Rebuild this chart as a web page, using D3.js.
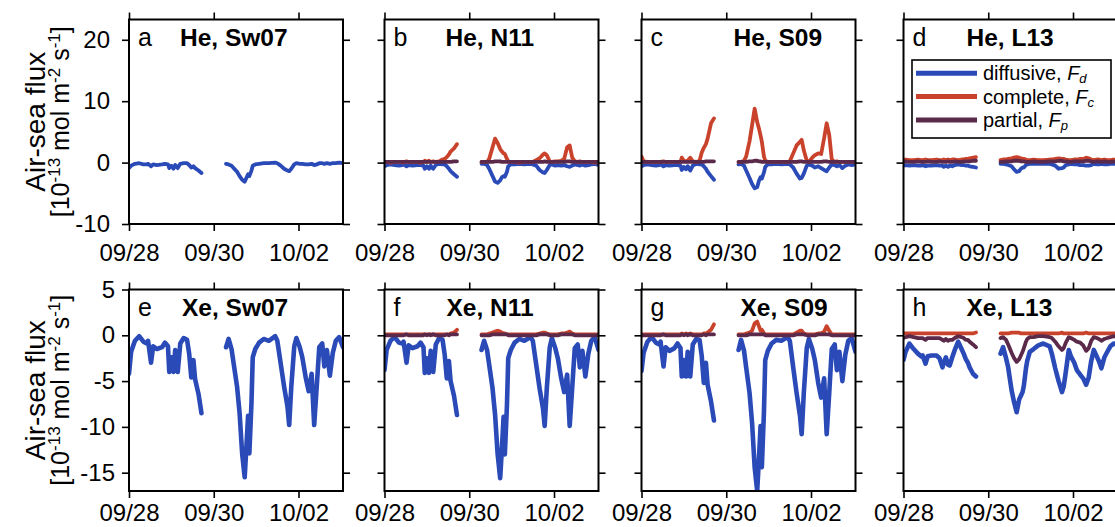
<!DOCTYPE html>
<html>
<head>
<meta charset="utf-8">
<script src="https://cdnjs.cloudflare.com/ajax/libs/d3/7.8.5/d3.min.js"></script>
<style>
    body { margin: 0; background: #fff; }
    svg { display: block; font-family: "Liberation Sans", Arial, Helvetica, sans-serif; }
</style>
</head>
<body>
<div id="chart"></div>
<script>
// sample times, days after 09/28 00:00 (first leg 27 samples, then a gap, second leg 42 samples)
const days = [
    0, 0.05, 0.14, 0.24, 0.34, 0.42, 0.45, 0.52, 0.57, 0.66, 0.78, 0.85, 0.92, 0.95, 1.00, 1.05, 1.09, 1.15, 1.21, 1.29, 1.37, 1.42, 1.47, 1.52, 1.56, 1.64, 1.71,
    2.29, 2.35, 2.42, 2.47, 2.55, 2.61, 2.67, 2.73, 2.77, 2.81, 2.84, 2.89, 2.92, 2.98, 3.07, 3.18, 3.30, 3.45, 3.50, 3.58, 3.66,
    3.74, 3.78, 3.83, 3.90, 3.95, 4.03, 4.09, 4.17, 4.24, 4.31, 4.37, 4.43, 4.49, 4.56, 4.61, 4.67, 4.74, 4.81, 4.88, 4.96, 5.05
];

const dateTicks = [0, 2, 4];
const dateLabels = ["09/28", "09/30", "10/02"];
const heTicks = [-10, 0, 10, 20];
const xeTicks = [-15, -10, -5, 0, 5];
const sites = ["Sw07", "N11", "S09", "L13"];
const gases = ["He", "Xe"];
const letters = ["a", "b", "c", "d", "e", "f", "g", "h"];
const fluxNames = ["diffusive", "complete", "partial"];
const fluxSubs = ["d", "c", "p"];

// He fluxes [1e-13 mol m-2 s-1]
const heDiffSw07 = [
    -0.9, -0.5, -0.2, -0.1, -0.3, -0.3, -0.2, -0.6, -0.3, -0.4, -0.3, -0.2, -0.3, -0.9, -0.5, -1.0, -0.4, -0.9, -0.2, -0.1, -0.1, -0.4, -0.8, -0.6, -0.9, -1.3, -1.7,
    -0.2, -0.3, -0.5, -0.9, -1.5, -2.2, -2.8, -3.1, -2.5, -1.9, -2.2, -1.3, -0.5, -0.3, -0.2, -0.1, -0.1, 0.0, -0.1, -0.5, -1.0,
    -1.3, -1.4, -1.0, -0.3, -0.1, -0.2, -0.2, -0.3, -0.3, -0.2, -0.4, -0.3, -0.1, -0.1, -0.2, -0.1, -0.2, -0.1, -0.1, 0.0, -0.1
];
const heDiffN11 = [
    -0.6, -0.4, -0.3, -0.4, -0.5, -0.4, -0.3, -0.6, -0.4, -0.5, -0.4, -0.4, -0.5, -1.0, -0.6, -1.0, -0.5, -1.0, -0.4, -0.2, -0.3, -0.3, -0.6, -1.0, -1.4, -1.9, -2.3,
    -0.2, -0.2, -0.4, -1.0, -2.2, -3.1, -3.3, -2.9, -2.4, -2.2, -2.3, -1.5, -0.6, -0.3, -0.3, -0.2, -0.3, -0.2, -0.3, -0.5, -1.2,
    -1.6, -1.7, -1.2, -0.4, -0.3, -0.5, -0.4, -0.5, -0.4, -0.6, -0.7, -0.5, -0.3, -0.4, -0.5, -0.3, -0.5, -0.4, -0.3, -0.2, -0.4
];
const heCompN11 = [
    0.1, 0.1, 0.0, 0.1, 0.1, 0.1, 0.0, 0.2, 0.1, 0.1, 0.1, 0.0, 0.1, 0.3, 0.1, 0.3, 0.1, 0.2, 0.1, 0.2, 0.5, 0.6, 0.9, 1.3, 1.8, 2.3, 3.0,
    0.1, 0.1, 0.1, 0.6, 2.5, 3.9, 3.2, 2.2, 1.8, 1.5, 1.4, 0.6, 0.2, 0.1, 0.1, 0.0, 0.1, 0.1, 0.1, 0.4, 0.7,
    1.3, 1.5, 1.2, 0.2, 0.1, 0.2, 0.2, 0.3, 0.6, 2.5, 2.8, 0.8, 0.2, 0.1, 0.2, 0.1, 0.1, 0.1, 0.1, 0.0, 0.1
];
const hePartN11 = [
    0.1, 0.1, 0.1, 0.1, 0.1, 0.1, 0.1, 0.1, 0.1, 0.1, 0.1, 0.1, 0.1, 0.1, 0.1, 0.1, 0.1, 0.1, 0.1, 0.1, 0.1, 0.1, 0.1, 0.1, 0.1, 0.2, 0.2,
    0.1, 0.1, 0.1, 0.1, 0.1, 0.2, 0.2, 0.2, 0.1, 0.1, 0.1, 0.1, 0.1, 0.1, 0.1, 0.1, 0.1, 0.1, 0.1, 0.1, 0.1,
    0.1, 0.2, 0.1, 0.1, 0.1, 0.1, 0.1, 0.1, 0.1, 0.2, 0.2, 0.1, 0.1, 0.1, 0.1, 0.1, 0.1, 0.1, 0.1, 0.1, 0.1
];
const heDiffS09 = [
    -0.6, -0.4, -0.3, -0.4, -0.5, -0.4, -0.3, -0.6, -0.4, -0.5, -0.4, -0.4, -0.5, -1.2, -0.7, -1.1, -0.6, -1.3, -0.5, -0.2, -0.3, -0.3, -0.6, -1.0, -1.5, -2.2, -2.8,
    -0.3, -0.2, -0.5, -1.3, -2.5, -3.5, -4.2, -4.0, -3.0, -2.4, -2.6, -1.6, -0.7, -0.3, -0.3, -0.2, -0.3, -0.2, -0.3, -0.8, -1.8,
    -2.6, -2.5, -1.8, -0.5, -0.3, -0.5, -0.8, -0.6, -0.9, -1.2, -1.4, -0.8, -0.3, -0.4, -0.6, -0.4, -0.9, -0.5, -0.3, -0.4, -0.3
];
const heCompS09 = [
    1.0, 0.2, 0.1, 0.1, 0.1, 0.1, 0.1, 0.2, 0.1, 0.1, 0.1, 0.1, 0.1, 0.8, 0.3, 0.2, 0.3, 0.8, 0.2, 0.1, 0.3, 1.6, 2.4, 3.0, 3.9, 6.4, 7.2,
    0.1, 0.1, 0.3, 1.0, 3.5, 6.1, 8.8, 6.6, 5.6, 4.4, 3.4, 1.0, 0.3, 0.1, 0.1, 0.1, 0.1, 0.1, 0.2, 1.5, 2.8,
    3.4, 3.7, 2.0, 0.3, 0.1, 0.8, 1.2, 1.5, 1.4, 4.0, 6.4, 4.5, 0.5, 0.1, 0.2, 0.1, 0.1, 0.1, 0.1, 0.1, 0.1
];
const hePartS09 = [
    0.1, 0.1, 0.1, 0.1, 0.1, 0.1, 0.1, 0.1, 0.1, 0.1, 0.1, 0.1, 0.1, 0.1, 0.1, 0.1, 0.1, 0.1, 0.1, 0.1, 0.1, 0.1, 0.1, 0.2, 0.2, 0.2, 0.2,
    0.1, 0.1, 0.1, 0.1, 0.2, 0.2, 0.3, 0.3, 0.2, 0.2, 0.1, 0.1, 0.1, 0.1, 0.1, 0.1, 0.1, 0.1, 0.1, 0.1, 0.1,
    0.2, 0.2, 0.1, 0.1, 0.1, 0.1, 0.1, 0.1, 0.1, 0.2, 0.2, 0.1, 0.1, 0.1, 0.1, 0.1, 0.1, 0.1, 0.1, 0.1, 0.1
];
const heDiffL13 = [
    -0.5, -0.4, -0.5, -0.4, -0.5, -0.5, -0.4, -0.6, -0.5, -0.5, -0.4, -0.5, -0.5, -0.7, -0.5, -0.7, -0.5, -0.6, -0.4, -0.3, -0.4, -0.4, -0.5, -0.5, -0.6, -0.7, -0.8,
    -0.2, -0.2, -0.3, -0.4, -0.6, -1.1, -1.5, -1.4, -1.0, -0.8, -0.8, -0.4, -0.3, -0.2, -0.2, -0.2, -0.2, -0.2, -0.3, -0.5, -1.0,
    -0.9, -0.8, -0.4, -0.3, -0.2, -0.3, -0.3, -0.4, -0.4, -0.5, -0.5, -0.4, -0.2, -0.3, -0.3, -0.2, -0.3, -0.3, -0.2, -0.2, -0.2
];
const heCompL13 = [
    0.4, 0.5, 0.4, 0.4, 0.5, 0.4, 0.4, 0.5, 0.4, 0.4, 0.5, 0.4, 0.4, 0.5, 0.4, 0.5, 0.4, 0.5, 0.5, 0.4, 0.5, 0.5, 0.6, 0.6, 0.7, 0.8, 0.9,
    0.4, 0.5, 0.5, 0.6, 0.7, 0.8, 0.9, 0.8, 0.7, 0.6, 0.6, 0.5, 0.4, 0.4, 0.5, 0.4, 0.4, 0.5, 0.5, 0.6, 0.7,
    0.6, 0.6, 0.5, 0.4, 0.4, 0.5, 0.5, 0.6, 0.6, 0.8, 0.7, 0.5, 0.4, 0.5, 0.5, 0.4, 0.5, 0.4, 0.4, 0.5, 0.4
];
const hePartL13 = [
    0.1, 0.2, 0.1, 0.1, 0.2, 0.1, 0.1, 0.1, 0.2, 0.1, 0.1, 0.2, 0.1, 0.1, 0.1, 0.2, 0.1, 0.1, 0.2, 0.1, 0.1, 0.2, 0.2, 0.2, 0.2, 0.3, 0.3,
    0.1, 0.1, 0.2, 0.2, 0.2, 0.3, 0.3, 0.3, 0.2, 0.2, 0.2, 0.1, 0.1, 0.1, 0.2, 0.1, 0.1, 0.2, 0.2, 0.2, 0.3,
    0.3, 0.2, 0.2, 0.1, 0.1, 0.2, 0.2, 0.2, 0.2, 0.3, 0.3, 0.2, 0.1, 0.2, 0.2, 0.1, 0.2, 0.1, 0.1, 0.2, 0.1
];

// Xe fluxes [1e-13 mol m-2 s-1]
const xeDiffSw07 = [
    -4.2, -1.8, -0.6, -0.1, -0.7, -0.9, -0.6, -3.0, -1.2, -1.5, -1.3, -0.8, -1.2, -4.0, -2.4, -4.0, -1.6, -4.0, -0.9, -0.3, -0.5, -2.0, -4.6, -2.7, -4.8, -6.4, -8.5,
    -1.3, -0.4, -1.5, -3.1, -5.6, -8.5, -12.9, -15.5, -12.2, -8.8, -12.9, -7.4, -2.4, -1.5, -0.8, -0.4, -0.6, -0.1, -0.6, -3.1, -5.6,
    -7.8, -9.8, -5.6, -1.2, -0.3, -1.3, -2.4, -4.6, -6.1, -4.2, -9.8, -5.6, -1.3, -0.9, -3.4, -1.6, -4.4, -1.9, -0.6, -0.2, -1.3
];
const xeDiffN11 = [
    -3.8, -1.6, -0.6, -0.2, -0.8, -0.9, -0.7, -3.0, -1.1, -1.4, -1.2, -0.8, -1.3, -4.1, -2.5, -4.1, -1.7, -4.0, -1.0, -0.3, -0.5, -2.1, -4.7, -2.8, -5.0, -6.6, -8.7,
    -1.6, -0.6, -1.6, -3.2, -5.8, -8.7, -13.0, -15.6, -12.4, -8.9, -13.0, -7.6, -2.5, -1.6, -0.8, -0.4, -0.6, -0.2, -0.6, -3.2, -5.8,
    -8.0, -9.9, -5.8, -1.3, -0.3, -1.4, -2.5, -4.7, -6.2, -4.3, -9.9, -5.7, -1.4, -1.0, -3.5, -1.7, -4.5, -2.0, -0.6, -0.2, -1.6
];
const xeCompN11 = [
    0.1, 0.1, 0.1, 0.1, 0.1, 0.1, 0.1, 0.1, 0.1, 0.1, 0.1, 0.1, 0.1, 0.1, 0.1, 0.1, 0.1, 0.1, 0.1, 0.1, 0.1, 0.1, 0.1, 0.1, 0.2, 0.3, 0.6,
    0.1, 0.1, 0.1, 0.2, 0.3, 0.4, 0.5, 0.4, 0.3, 0.2, 0.2, 0.1, 0.1, 0.1, 0.1, 0.1, 0.1, 0.1, 0.1, 0.1, 0.2,
    0.3, 0.3, 0.2, 0.1, 0.1, 0.1, 0.1, 0.2, 0.2, 0.3, 0.4, 0.2, 0.1, 0.1, 0.1, 0.1, 0.1, 0.1, 0.1, 0.1, 0.1
];
const xePartN11 = [
    0.0, 0.0, 0.0, 0.0, 0.0, 0.0, 0.0, 0.1, 0.0, 0.0, 0.0, 0.0, 0.0, 0.1, 0.0, 0.1, 0.0, 0.1, 0.0, 0.0, 0.0, 0.0, 0.1, 0.0, 0.1, 0.1, 0.1,
    0.0, 0.0, 0.0, 0.0, 0.1, 0.1, 0.1, 0.1, 0.1, 0.1, 0.1, 0.1, 0.0, 0.0, 0.0, 0.0, 0.0, 0.0, 0.0, 0.0, 0.1,
    0.1, 0.1, 0.1, 0.0, 0.0, 0.0, 0.0, 0.1, 0.1, 0.1, 0.1, 0.1, 0.0, 0.0, 0.0, 0.0, 0.0, 0.0, 0.0, 0.0, 0.0
];
const xeDiffS09 = [
    -3.9, -1.9, -0.7, -0.2, -0.8, -1.0, -0.7, -3.4, -1.3, -1.7, -1.4, -0.9, -1.4, -4.5, -2.7, -4.5, -1.8, -4.5, -1.0, -0.4, -0.5, -2.2, -5.2, -3.0, -5.4, -7.2, -9.3,
    -1.6, -0.5, -1.7, -3.5, -6.3, -9.6, -14.4, -17.0, -13.6, -9.9, -14.4, -8.3, -2.7, -1.7, -0.9, -0.5, -0.6, -0.2, -0.6, -3.5, -6.3,
    -8.8, -10.8, -6.3, -1.4, -0.4, -1.5, -2.7, -5.2, -6.8, -4.7, -10.8, -6.3, -1.5, -1.0, -3.8, -1.8, -5.0, -2.1, -0.6, -0.3, -1.8
];
const xeCompS09 = [
    0.1, 0.1, 0.1, 0.1, 0.1, 0.1, 0.1, 0.1, 0.1, 0.1, 0.1, 0.1, 0.1, 0.2, 0.1, 0.2, 0.1, 0.2, 0.1, 0.1, 0.1, 0.1, 0.2, 0.2, 0.3, 0.6, 1.2,
    0.1, 0.1, 0.1, 0.2, 0.3, 0.5, 1.3, 1.5, 1.0, 0.5, 0.6, 0.2, 0.1, 0.1, 0.1, 0.1, 0.1, 0.1, 0.1, 0.1, 0.3,
    0.5, 0.5, 0.2, 0.1, 0.1, 0.1, 0.1, 0.2, 0.2, 0.4, 1.0, 0.5, 0.1, 0.1, 0.1, 0.1, 0.1, 0.1, 0.1, 0.1, 0.1
];
const xePartS09 = [
    0.0, 0.0, 0.0, 0.0, 0.0, 0.0, 0.0, 0.1, 0.0, 0.0, 0.0, 0.0, 0.0, 0.1, 0.0, 0.1, 0.0, 0.1, 0.0, 0.0, 0.0, 0.0, 0.1, 0.0, 0.1, 0.1, 0.1,
    0.0, 0.0, 0.0, 0.0, 0.1, 0.1, 0.1, 0.1, 0.1, 0.1, 0.1, 0.1, 0.0, 0.0, 0.0, 0.0, 0.0, 0.0, 0.0, 0.0, 0.1,
    0.1, 0.1, 0.1, 0.0, 0.0, 0.0, 0.0, 0.1, 0.1, 0.1, 0.1, 0.1, 0.0, 0.0, 0.0, 0.0, 0.0, 0.0, 0.0, 0.0, 0.0
];
const xeDiffL13 = [
    -2.7, -1.8, -0.9, -1.5, -2.0, -2.3, -2.2, -3.1, -2.3, -2.2, -2.2, -2.5, -3.5, -3.0, -2.4, -3.2, -3.3, -2.4, -1.6, -0.7, -1.5, -2.0, -2.6, -3.0, -3.5, -4.2, -4.5,
    -2.0, -1.3, -2.5, -3.5, -6.0, -7.3, -8.4, -7.0, -6.6, -6.2, -5.5, -3.6, -2.8, -1.8, -1.5, -1.1, -0.9, -1.2, -2.0, -3.6, -5.0,
    -6.2, -5.6, -4.0, -1.6, -2.3, -3.0, -3.8, -4.3, -4.7, -5.4, -4.6, -2.8, -1.6, -2.3, -2.8, -3.6, -2.4, -1.8, -1.2, -0.9, -1.0
];
const xeCompL13 = [
    0.2, 0.2, 0.2, 0.2, 0.2, 0.2, 0.2, 0.2, 0.2, 0.2, 0.2, 0.2, 0.2, 0.2, 0.2, 0.2, 0.2, 0.2, 0.2, 0.2, 0.2, 0.2, 0.2, 0.2, 0.2, 0.2, 0.3,
    0.2, 0.2, 0.2, 0.2, 0.3, 0.3, 0.3, 0.3, 0.2, 0.2, 0.2, 0.2, 0.2, 0.2, 0.2, 0.2, 0.2, 0.2, 0.2, 0.2, 0.2,
    0.3, 0.2, 0.2, 0.2, 0.2, 0.2, 0.2, 0.2, 0.2, 0.3, 0.2, 0.2, 0.2, 0.2, 0.2, 0.2, 0.2, 0.2, 0.2, 0.2, 0.2
];
const xePartL13 = [
    -0.3, -0.2, -0.1, -0.2, -0.3, -0.3, -0.3, -0.5, -0.3, -0.3, -0.3, -0.3, -0.5, -0.6, -0.4, -0.6, -0.5, -0.5, -0.3, -0.1, -0.2, -0.3, -0.5, -0.5, -0.7, -1.0, -1.3,
    -0.3, -0.2, -0.5, -1.0, -1.9, -2.5, -2.9, -2.6, -2.2, -1.8, -1.4, -0.7, -0.4, -0.2, -0.2, -0.1, -0.1, -0.2, -0.3, -0.7, -1.2,
    -1.6, -1.4, -0.8, -0.2, -0.3, -0.5, -0.7, -0.8, -1.1, -1.7, -1.4, -0.6, -0.2, -0.3, -0.4, -0.6, -0.4, -0.3, -0.2, -0.1, -0.2
];

// panel contents, in reading order a..h: [diffusive, complete, partial]
const panelSeries = [
    [heDiffSw07, null, null], [heDiffN11, heCompN11, hePartN11], [heDiffS09, heCompS09, hePartS09], [heDiffL13, heCompL13, hePartL13],
    [xeDiffSw07, null, null], [xeDiffN11, xeCompN11, xePartN11], [xeDiffS09, xeCompS09, xePartS09], [xeDiffL13, xeCompL13, xePartL13]
];

//Layout
const W = 1115, H = 527;
const colLeft = [129, 384.5, 641.5, 903.5];
const panelW = 214;
const rowTop = [19.5, 289.5];
const rowH = [204.5, 201.5];
const titleDx = [[51, 61, 92, 63], [53, 62, 99, 63]];
const yLabelPad = [12, 7];
const xLabelPad = [13, 6];
const colors = ["#2a4ab8", "#c9432c", "#5b2a4a"];
const fontSize = 24;

let svg = d3.select("#chart").append("svg")
    .attr("width", W)
    .attr("height", H);

let x = d3.scaleLinear()
    .domain([0, 5.05])
    .range([0, panelW]);

let yScales = [
    d3.scaleLinear().domain([-10, 23.3]).range([rowH[0], 0]),
    d3.scaleLinear().domain([-17, 5]).range([rowH[1], 0])
];
let yTicks = [heTicks, xeTicks];

// split the samples into the two continuous legs
const legs = (values) => {
    let out = [[]];
    values.forEach((v, i) => {
        if (i > 0 && days[i] - days[i - 1] > 0.3) out.push([]);
        out[out.length - 1].push([days[i], v]);
    });
    return out;
};

const styleAxis = g => {
    g.select(".domain").remove();
    g.selectAll(".tick line").attr("stroke", "#000").attr("stroke-width", 1.6);
    g.selectAll(".tick text")
        .attr("fill", "#000")
        .style("font-size", fontSize + "px")
        .style("font-family", "'Liberation Sans', Arial, sans-serif");
};

svg.append("defs").selectAll("clipPath")
    .data([0, 1])
    .enter().append("clipPath")
    .attr("id", d => "clip" + d)
    .append("rect")
    .attr("width", panelW)
    .attr("height", d => rowH[d]);

for (let row = 0; row < 2; row++) {
    let y = yScales[row];
    let h = rowH[row];

    let line = d3.line()
        .x(d => x(d[0]))
        .y(d => y(d[1]));

    for (let col = 0; col < 4; col++) {
        let idx = row * 4 + col;
        let g = svg.append("g")
            .attr("transform", "translate(" + colLeft[col] + "," + rowTop[row] + ")");

        // flux lines: diffusive, complete, partial (partial on top)
        let lines = g.append("g").attr("clip-path", "url(#clip" + row + ")");
        panelSeries[idx].forEach((values, k) => {
            if (!values) return;
            lines.selectAll(null)
                .data(legs(values))
                .enter().append("path")
                .attr("d", line)
                .attr("fill", "none")
                .attr("stroke", colors[k])
                .attr("stroke-width", k === 0 && row === 1 ? 4.6 : 3.8)
                .attr("stroke-linejoin", "round")
                .attr("stroke-linecap", "round");
        });

        // axes on all four sides, ticks pointing out
        g.append("g")
            .attr("transform", "translate(0," + h + ")")
            .call(d3.axisBottom(x).tickValues(dateTicks).tickSize(7).tickPadding(xLabelPad[row])
                .tickFormat((d, i) => dateLabels[i]))
            .call(styleAxis);

        g.append("g")
            .call(d3.axisTop(x).tickValues(dateTicks).tickSize(7).tickFormat(""))
            .call(styleAxis);

        g.append("g")
            .call(d3.axisLeft(y).tickValues(yTicks[row]).tickSize(7).tickPadding(yLabelPad[row])
                .tickFormat(d => col === 0 ? String(d) : ""))
            .call(styleAxis);

        g.append("g")
            .attr("transform", "translate(" + panelW + ",0)")
            .call(d3.axisRight(y).tickValues(yTicks[row]).tickSize(7).tickFormat(""))
            .call(styleAxis);

        g.append("rect")
            .attr("width", panelW)
            .attr("height", h)
            .attr("fill", "none")
            .attr("stroke", "#000")
            .attr("stroke-width", 2);

        // panel letter and title
        g.append("text")
            .attr("x", 9)
            .attr("y", 26)
            .style("font-size", "25px")
            .text(letters[idx]);

        g.append("text")
            .attr("x", titleDx[row][col])
            .attr("y", 26)
            .style("font-size", "24.5px")
            .style("font-weight", "bold")
            .text(gases[row] + ", " + sites[col]);

        if (idx === 3) drawLegend(g);
    }

    // y label
    let cy = rowTop[row] + h / 2;
    svg.append("text")
        .attr("transform", "translate(45," + cy + ") rotate(-90)")
        .attr("text-anchor", "middle")
        .style("font-size", "28px")
        .text("Air-sea flux");

    let unit = svg.append("text")
        .attr("transform", "translate(69," + cy + ") rotate(-90)")
        .attr("text-anchor", "middle")
        .style("font-size", "25px");
    [["[10", 0], ["-13", 1], [" mol m", 0], ["-2", 1], [" s", 0], ["-1", 1], ["]", 0]].forEach(p => {
        unit.append("tspan")
            .attr("baseline-shift", p[1] ? "super" : null)
            .style("font-size", p[1] ? "17px" : null)
            .text(p[0]);
    });
}

function drawLegend(g) {
    let lg = g.append("g").attr("transform", "translate(8.5,40.5)");

    lg.append("rect")
        .attr("width", 199)
        .attr("height", 78)
        .attr("fill", "#fff")
        .attr("stroke", "#000")
        .attr("stroke-width", 1.6);

    let item = lg.selectAll(".legend")
        .data(fluxNames)
        .enter().append("g")
        .attr("class", "legend")
        .attr("transform", (d, i) => "translate(0," + (13.3 + i * 23.3) + ")");

    item.append("line")
        .attr("x1", 4)
        .attr("x2", 65)
        .attr("stroke", (d, i) => colors[i])
        .attr("stroke-width", 5);

    let txt = item.append("text")
        .attr("x", 71)
        .attr("y", 7)
        .style("font-size", "20px");
    txt.append("tspan").text(d => d + ", ");
    txt.append("tspan").style("font-style", "italic").text("F");
    txt.append("tspan")
        .style("font-style", "italic")
        .style("font-size", "13px")
        .attr("dy", 3)
        .text((d, i) => fluxSubs[i]);
}
</script>
</body>
</html>
